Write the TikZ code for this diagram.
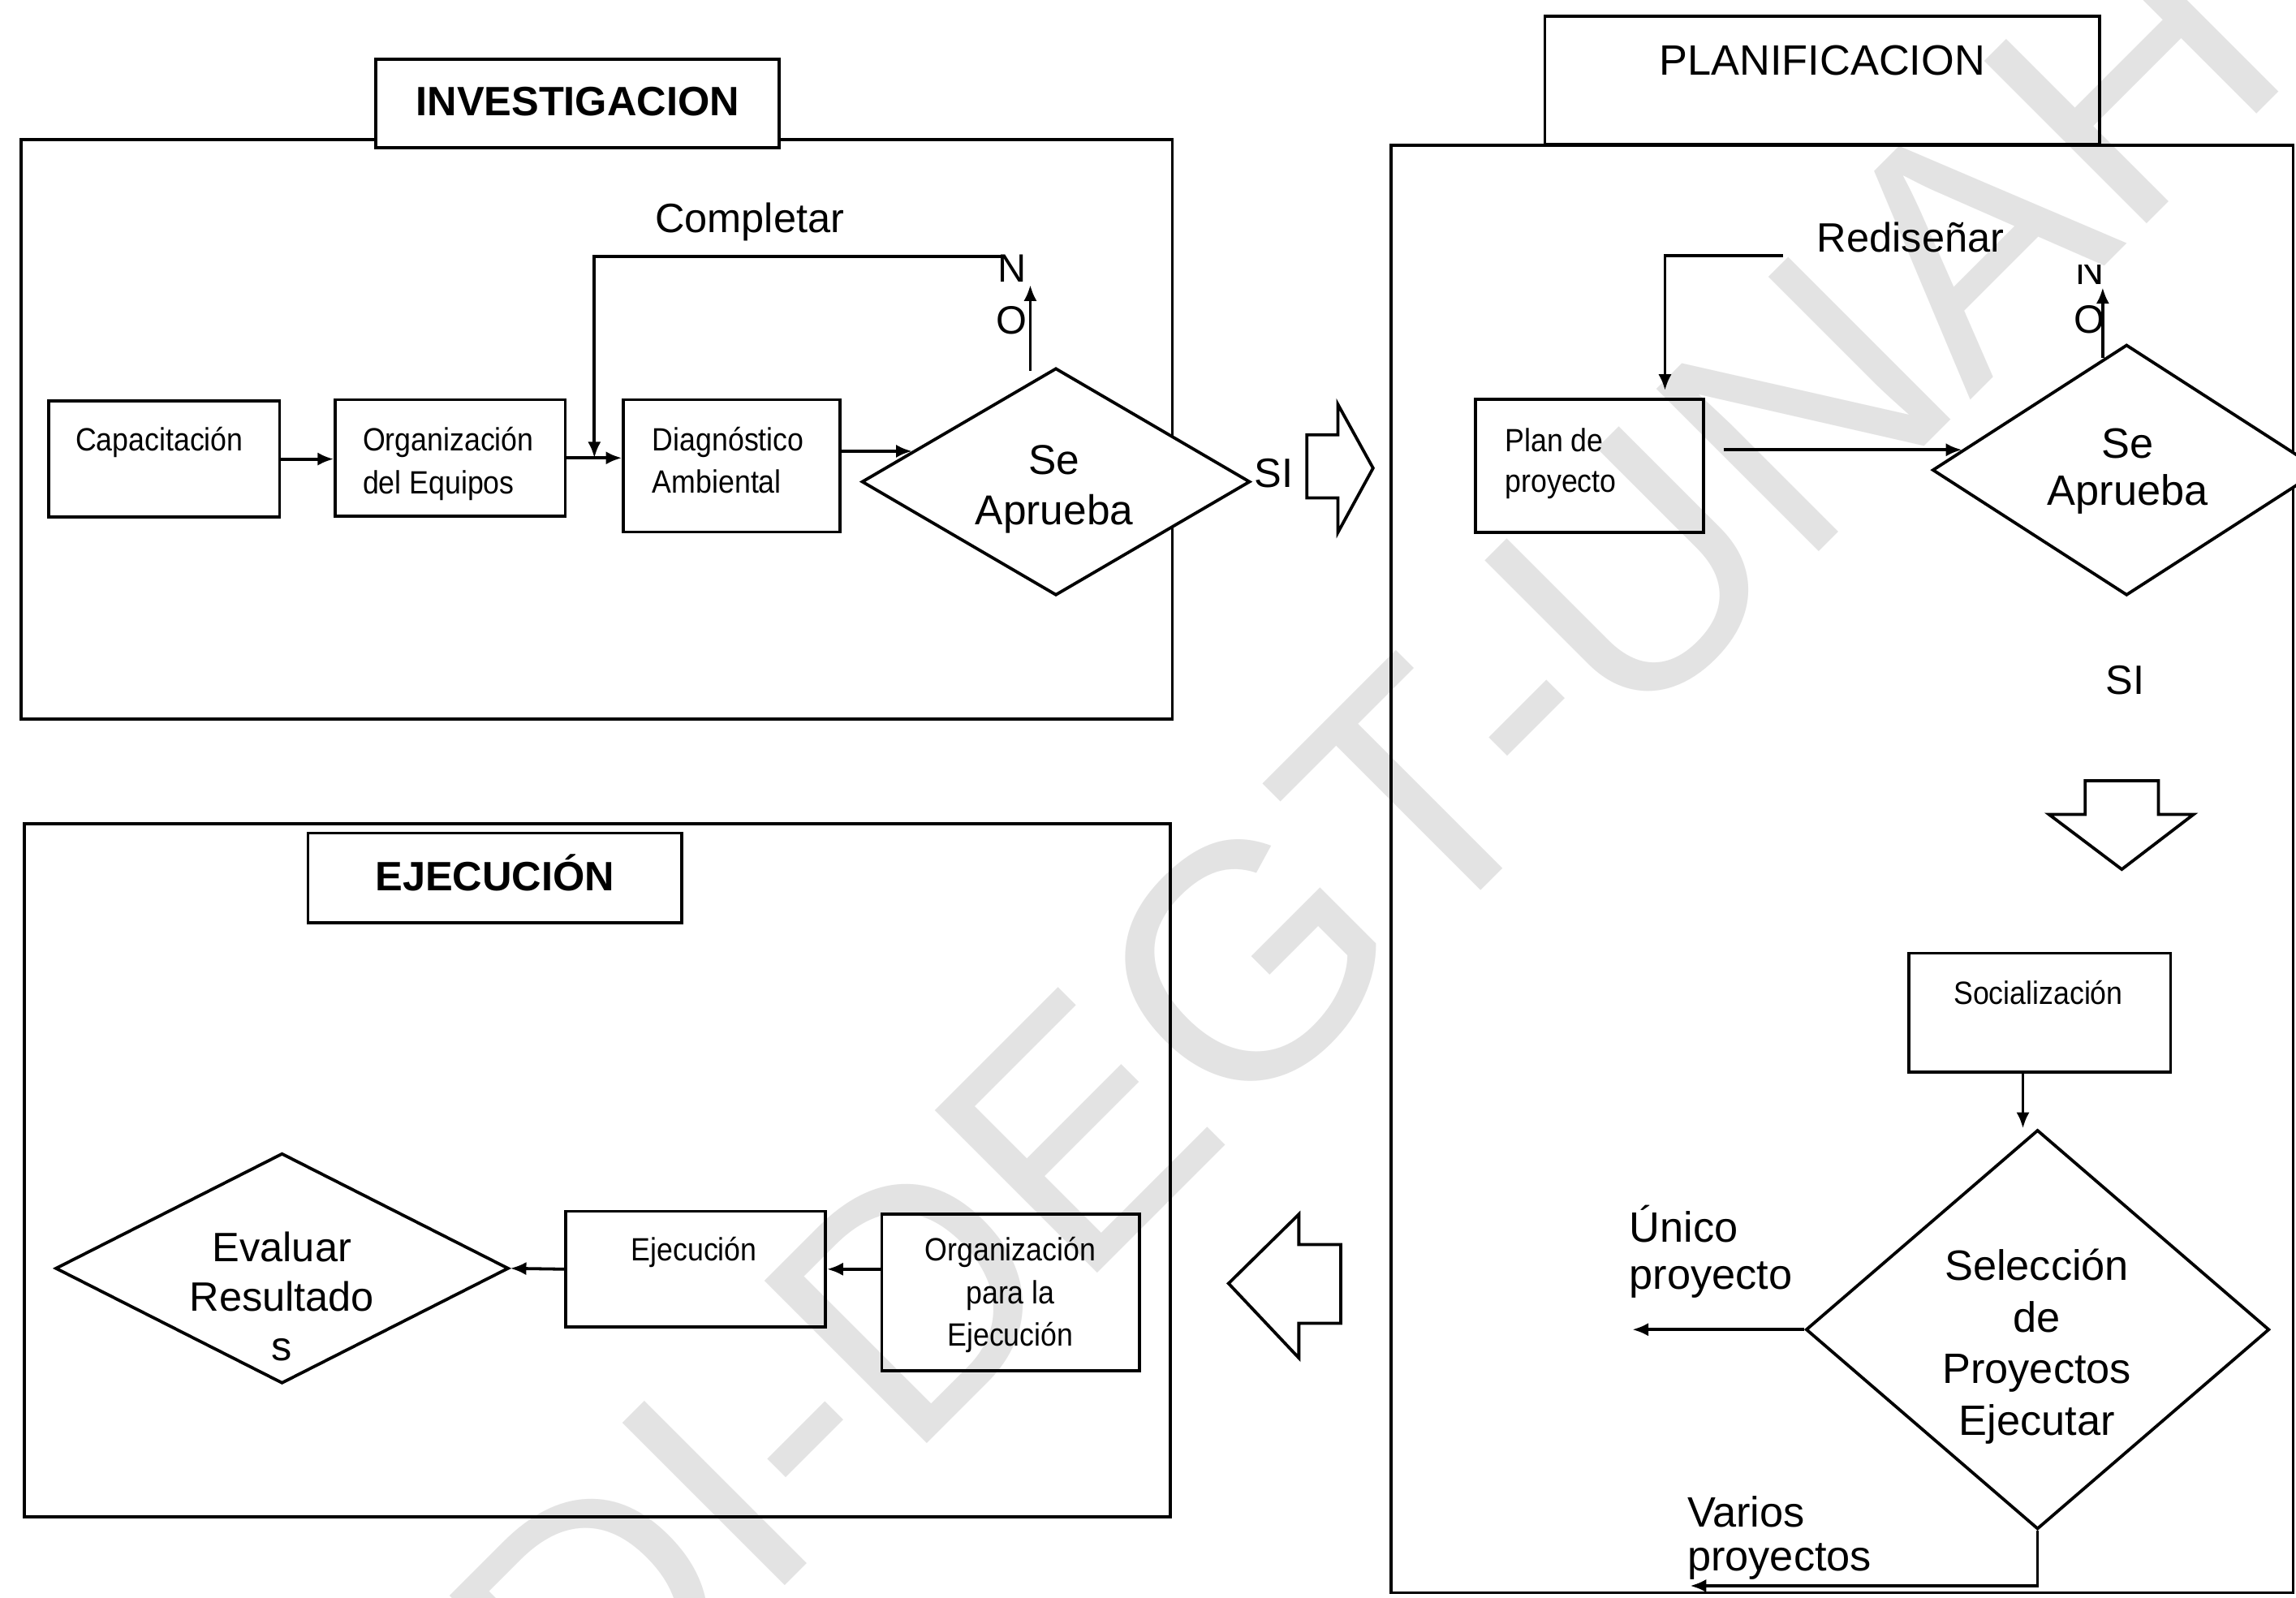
\documentclass[tikz,border=0pt]{standalone}
\usepackage{fontspec}
\setmainfont{Liberation Sans}
\newfontfamily\boxfont[FakeStretch=0.9]{Liberation Sans}
\usetikzlibrary{shapes.geometric,arrows.meta,calc}
\tikzset{
  ln/.style={line width=2.1pt, line join=miter},
  frame/.style={draw, ln, inner sep=0pt},
  stepbox/.style={draw, ln, inner sep=0pt},
  decide/.style={draw, ln, diamond, inner sep=0pt, fill=white},
  arr/.style={ln, -{Latex[length=11pt,width=9pt]}},
  txt/.style={inner sep=0pt, anchor=base, align=center},
  big/.style={txt, font=\fontsize{28}{34}\selectfont},
  bigger/.style={txt, font=\fontsize{29}{35}\selectfont},
  small/.style={txt, font=\boxfont\fontsize{22}{29}\selectfont},
  wmark/.style={text=black!11, font=\fontsize{228}{228}\selectfont, inner sep=0pt},
  hollow/.style={ln, line join=miter, fill=white},
}
\begin{document}
\begin{tikzpicture}[x=1pt,y=-1pt]
\clip (0,0) rectangle (1568,1091);
\fill[white] (0,0) rectangle (1568,1091);

% watermark
\node[wmark, rotate=45, anchor=base west] (wm) at (405,1214) {DI-DEGT-UNAH};

% ---------- frames ----------
\node[frame, minimum width=786.3, minimum height=395.7] (invf) at (407.45,293.35) {};
\node[frame, minimum width=782.5, minimum height=473.3] (ejef) at (408.05,799.35) {};
\node[frame, minimum width=616, minimum height=988.4] (planf) at (1258,593.5) {};

% title boxes
\node[frame, fill=white, minimum width=275.7, minimum height=60.5] (invt) at (394.45,70.65) {};
\node[frame, minimum width=379, minimum height=87.5] (plant) at (1244.5,54.85) {};
\node[frame, minimum width=255.4, minimum height=61] (ejet) at (338,599.5) {};

\node[txt, font=\bfseries\fontsize{28}{34}\selectfont] (tinv) at (394.5,79) {INVESTIGACION};
\node[txt, font=\fontsize{29}{35}\selectfont] (tplan) at (1244.5,51) {PLANIFICACION};
\node[txt, font=\bfseries\fontsize{28}{34}\selectfont] (teje) at (338,608.5) {EJECUCIÓN};

% ---------- investigation ----------
\node[stepbox, minimum width=157.5, minimum height=79] (cap) at (112.15,313.5) {};
\node[stepbox, minimum width=157, minimum height=79.5] (org) at (307.5,312.75) {};
\node[stepbox, minimum width=147.9, minimum height=90.3] (diag) at (499.75,318.15) {};
\node[decide, minimum width=265.2, minimum height=155.2] (sa1) at (721.1,329) {};

% multi-line texts are placed by the baseline of their last line
\node[small, anchor=base west] (tcap) at (51.4,308) {Capacitación};
\node[small, anchor=base west, align=left, font=\boxfont\fontsize{22}{29.5}\selectfont] (torg) at (247.6,337.5) {Organización\\del Equipos};
\node[small, anchor=base west, align=left, font=\boxfont\fontsize{22}{28.6}\selectfont] (tdiag) at (445.4,336.6) {Diagnóstico\\Ambiental};
\node[txt, font=\fontsize{28.5}{34.6}\selectfont] (tsa1) at (720,358.6) {Se\\Aprueba};
\node[txt, font=\fontsize{27}{35.5}\selectfont] (tno1) at (691,228) {N\\O};
\node[big] (tcompl) at (512,159) {Completar};
\node[big] (tsi1) at (870,332.6) {SI};

\draw[arr] (cap.east) -- (cap.east -| org.west);
\draw[arr] (org.east) -- (org.east -| diag.west);
\draw[arr] (diag.east |- sa1.168) -- (sa1.168);
\coordinate (cjoin) at ($(org.east)!0.5!(org.east -| diag.west)$);
\coordinate (cfrom) at (684,175.3);
\draw[arr] (cfrom) -| (cjoin);
\draw[arr] ($(sa1.north)+(-17.5,3)$) -- ++(0,-58.8);

% hollow arrow to planning
\draw[hollow] (892.5,297) -- (913.7,297) -- (913.7,276.2) -- (937.7,319.7)
  -- (913.7,363.6) -- (913.7,340) -- (892.5,340) -- cycle;

% ---------- planning ----------
\node[stepbox, minimum width=155.9, minimum height=90.7] (plan) at (1085.55,318.05) {};
\node[decide, minimum width=265.2, minimum height=171.2] (sa2) at (1452.3,321) {};
\node[stepbox, minimum width=178.8, minimum height=81] (soc) at (1392.9,691.5) {};
\node[decide, minimum width=316.5, minimum height=272.7] (sel) at (1391.5,908) {};

\node[small, anchor=base west, align=left, font=\boxfont\fontsize{22}{27.5}\selectfont] (tplanp) at (1027.7,336) {Plan de\\proyecto};
\node[big] (tredis) at (1304.75,172) {Rediseñar};
\node[txt, font=\fontsize{29}{32}\selectfont] (tsa2) at (1453,345) {Se\\Aprueba};
\begin{scope}
  \clip (1400,181) rectangle (1460,260);
  \node[txt, font=\fontsize{27}{33}\selectfont] (tn2) at (1427.5,194) {N};
\end{scope}
\node[txt, font=\fontsize{27}{33}\selectfont] (to2) at (1427,227.3) {O};
\node[big] (tsi2) at (1451.5,474) {SI};
\node[small] (tsoc) at (1392,686) {Socialización};
\node[bigger, font=\fontsize{29}{35.2}\selectfont] (tsel) at (1391,980) {Selección\\de\\Proyectos\\Ejecutar};
\node[bigger, anchor=base west, align=left, font=\fontsize{29}{32}\selectfont] (tuni) at (1112.6,880.5) {Único\\proyecto};
\node[bigger, anchor=base west, align=left, font=\fontsize{29}{30}\selectfont] (tvar) at (1152.2,1073) {Varios\\proyectos};

\coordinate (rfrom) at (1217.6,174.4);
\draw[arr] (rfrom) -| ([xshift=51.5pt, yshift=5pt]plan.north);
\draw[arr] ($(plan.east |- sa2.173)+(12.5,0)$) -- (sa2.173);
\draw[arr] ($(sa2.north)+(-16.3,10)$) -- ++(0,-48);

% hollow arrow down
\draw[hollow] (1424,533.2) -- (1474,533.2) -- (1474,556.2) -- (1498,556.2)
  -- (1449,593.7) -- (1399.3,556.2) -- (1424,556.2) -- cycle;

\draw[arr] ([xshift=-11.4pt]soc.south) -- ++(0,37.6);
\coordinate (uend) at (1114.7,908);
\draw[arr] (sel.west) -- (uend);
\coordinate (vend) at (1154.2,1083);
\draw[arr] (sel.south) |- (vend);

% hollow arrow back to execution
\draw[hollow] (839,876.5) -- (887,829.3) -- (887,850) -- (915.6,850)
  -- (915.6,903.7) -- (887,903.7) -- (887,927.4) -- cycle;

% ---------- execution ----------
\node[stepbox, minimum width=177.3, minimum height=79.1] (ejec) at (475.05,866.75) {};
\node[stepbox, minimum width=176, minimum height=107.3] (orgej) at (690.2,882.65) {};
\node[decide, minimum width=309.5, minimum height=157.2] (ev) at (192.6,866.2) {};

\node[small] (tejec) at (474,861) {Ejecución};
\node[small, font=\boxfont\fontsize{22}{29.3}\selectfont] (torgej) at (690,919.5) {Organización\\para la\\Ejecución};
\node[big, font=\fontsize{28}{33.8}\selectfont] (tev) at (192.5,929) {Evaluar\\Resultado\\s};

\draw[arr] (orgej.west |- ejec.east) -- (ejec.east);
\draw[arr] (ejec.west) -- (ev.east);
\end{tikzpicture}
\end{document}
